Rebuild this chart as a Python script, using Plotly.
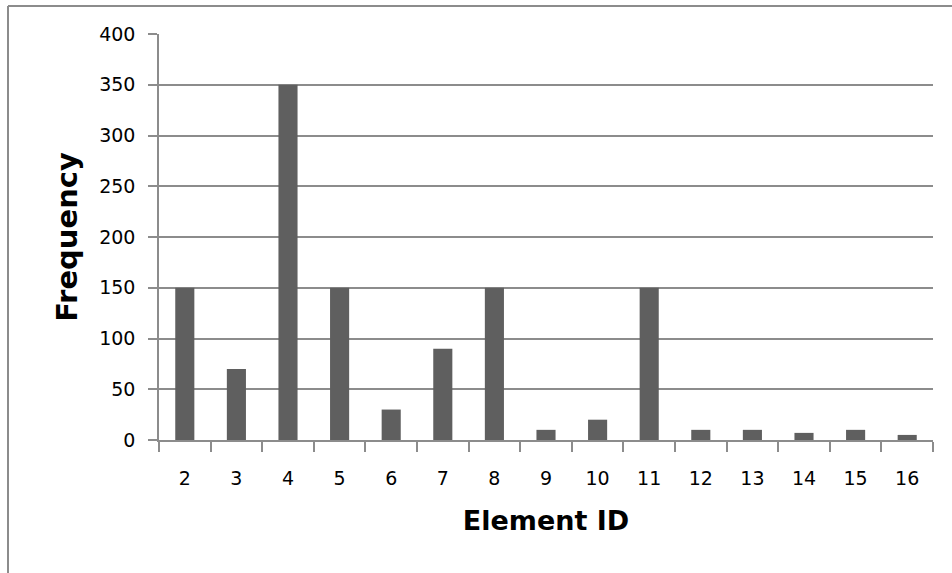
import plotly.graph_objects as go

element_ids = ["2", "3", "4", "5", "6", "7", "8", "9", "10", "11", "12", "13", "14", "15", "16"]
frequency = [150, 70, 350, 150, 30, 90, 150, 10, 20, 150, 10, 10, 7, 10, 5]
y_ticks = [0, 50, 100, 150, 200, 250, 300, 350, 400]

W, H = 952, 573
L, R, T, B = 159, 19, 33.5, 132.5
pw, ph = W - L - R, H - T - B

fig = go.Figure(go.Bar(x=element_ids, y=frequency, marker=dict(color="#5f5f5f", line=dict(width=0)),
                       width=0.37))

def px_x(x):
    return (x - L) / pw

def px_y(y):
    return (H - B - y) / ph

FONT = "'DejaVu Sans', sans-serif"
fig.update_layout(
    width=W, height=H,
    margin=dict(l=L, r=R, t=T, b=B),
    paper_bgcolor="white", plot_bgcolor="white",
    font=dict(family=FONT, size=20, color="#000"),
    showlegend=False,
    xaxis=dict(
        type="category", tickson="boundaries", ticks="outside", ticklen=10,
        tickcolor="#8c8c8c", tickwidth=1.5, showgrid=False,
        showline=True, linecolor="#8c8c8c", linewidth=1.5,
        tickfont=dict(size=19), ticklabelstandoff=20,
        title=dict(text="<b>Element ID</b>", font=dict(size=27), standoff=24),
    ),
    yaxis=dict(
        range=[0, 400], tickvals=y_ticks, ticks="outside", ticklen=9,
        tickcolor="#8c8c8c", tickwidth=1.5,
        showgrid=True, gridcolor="#8c8c8c", gridwidth=1.5,
        showline=True, linecolor="#8c8c8c", linewidth=1.5,
        zeroline=False, tickfont=dict(size=19), ticklabelstandoff=9,
        title=dict(text="<b>Frequency</b>", font=dict(size=29), standoff=13),
    ),
    shapes=[
        dict(type="line", xref="paper", yref="paper", x0=px_x(8), x1=px_x(960),
             y0=px_y(5.5), y1=px_y(5.5), line=dict(color="#8c8c8c", width=2)),
        dict(type="line", xref="paper", yref="paper", x0=px_x(8), x1=px_x(8),
             y0=px_y(5.5), y1=px_y(580), line=dict(color="#8c8c8c", width=2)),
    ],
)

fig.write_html("out.html", config={"displayModeBar": False},
               post_script="document.body.style.margin='0px';")
